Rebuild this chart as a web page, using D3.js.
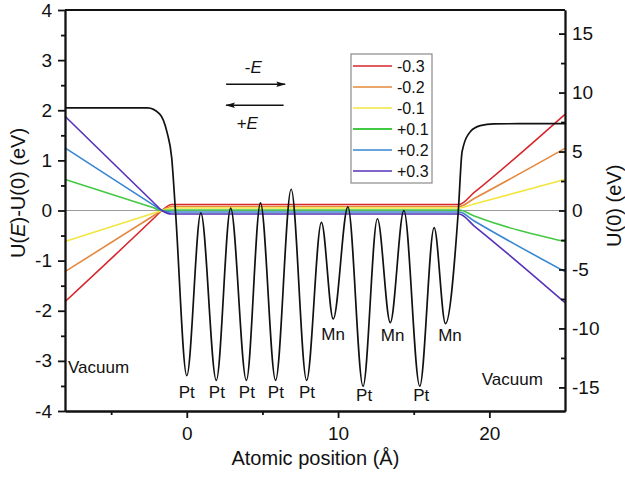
<!DOCTYPE html>
<html>
<head>
<meta charset="utf-8">
<script src="https://cdn.jsdelivr.net/npm/d3@7"></script>
<style>
    body { margin: 0; background: #fff; }
    svg { font-family: "Liberation Sans", Arial, sans-serif; }
</style>
</head>
<body>
<svg id="chart"></svg>
<script>
// Field-induced potential change (left axis) and bare potential U(0) (right axis)
const fieldLabels = ['-0.3', '-0.2', '-0.1', '+0.1', '+0.2', '+0.3'];
const fieldColors = ['#d7262b', '#e4883e', '#f2e640', '#43c843', '#3886d2', '#5632b8'];

// atomic positions where each U(E)-U(0) curve was read
const fieldX = [-8.05, -2.2, -1.65, -1.0, 18.0, 19.0, 25];
const fieldValues = [
    [-1.82, -0.16, 0, 0.12, 0.12, 0.36, 1.92],
    [-1.22, -0.105, 0, 0.08, 0.08, 0.24, 1.24],
    [-0.62, -0.053, 0, 0.05, 0.05, 0.13, 0.62],
    [0.62, 0.053, 0, 0.01, 0.01, -0.11, -0.62],
    [1.25, 0.107, 0, -0.03, -0.03, -0.21, -1.22],
    [1.88, 0.16, 0, -0.07, -0.07, -0.31, -1.84]
];

// bare potential U(0), eV, right axis
const u0X = [-8.05, -2.6, -1.8, -1.3, -1.0, -0.75, 0, 0.93, 1.95, 2.9, 3.94, 4.87, 5.87, 6.9, 7.92,
    8.9, 9.68, 10.65, 11.65, 12.6, 13.45, 14.35, 15.4, 16.35, 17.1, 17.95, 18.2, 18.75, 19.4, 20.3, 25];
const u0Values = [8.7, 8.7, 8.2, 6.6, 4.5, 0, -14.0, -0.2, -14.4, 0.2, -14.4, 0.65, -14.4, 1.8, -14.4,
    -1.0, -9.2, 0.3, -14.9, -0.7, -9.5, 0, -14.9, -1.45, -9.6, 0, 5.0, 6.7, 7.2, 7.35, 7.37];

const leftTicks = [-4, -3, -2, -1, 0, 1, 2, 3, 4];
const leftMinor = [-3.5, -2.5, -1.5, -0.5, 0.5, 1.5, 2.5, 3.5];
const rightTicks = [-15, -10, -5, 0, 5, 10, 15];
const rightMinor = [-12.5, -7.5, -2.5, 2.5, 7.5, 12.5];
const xTicks = [0, 10, 20];
const xMinor = [-5, 5, 15];

// site labels (x in Angstrom, y in left-axis eV)
const ptX = [0, 1.99, 3.97, 5.89, 7.95, 11.72, 15.5];
const ptY = [-3.74, -3.74, -3.74, -3.74, -3.74, -3.8, -3.8];
const mnX = [9.67, 13.6, 17.4];
const mnY = [-2.58, -2.6, -2.6];

const width = 625, height = 477;
const margin = { top: 10, right: 60, bottom: 66, left: 65 };

const svg = d3.select('#chart').attr('width', width).attr('height', height);

const x = d3.scaleLinear().domain([-8.05, 25]).range([margin.left, width - margin.right]);
const yL = d3.scaleLinear().domain([-4, 4]).range([height - margin.bottom, margin.top]);
const yR = d3.scaleLinear().domain([-17, 17]).range([height - margin.bottom, margin.top]);

// zero line
svg.append('line')
    .attr('x1', x.range()[0]).attr('x2', x.range()[1])
    .attr('y1', yL(0)).attr('y2', yL(0))
    .attr('stroke', '#9a9a9a').attr('stroke-width', 1);

// field curves
const fieldLine = d3.line()
    .x((d, i) => x(fieldX[i]))
    .y(d => yL(d))
    .curve(d3.curveMonotoneX);

svg.append('g').selectAll('path')
    .data(fieldValues)
    .enter().append('path')
    .attr('d', fieldLine)
    .attr('fill', 'none')
    .attr('stroke', (d, i) => fieldColors[i])
    .attr('stroke-width', 1.6);

// U(0) curve
const u0Line = d3.line()
    .x((d, i) => x(u0X[i]))
    .y(d => yR(d))
    .curve(d3.curveMonotoneX);

svg.append('path')
    .datum(u0Values)
    .attr('d', u0Line)
    .attr('fill', 'none')
    .attr('stroke', '#111')
    .attr('stroke-width', 1.7);

// axes
const tickFmt = d => String(d);

function styleAxis(g) {
    g.selectAll('path, line').attr('stroke', '#111').attr('stroke-width', 1.8);
    g.selectAll('text').attr('fill', '#111').style('font-size', '19px')
        .style('font-family', '"Liberation Sans", Arial, sans-serif');
}

svg.append('g')
    .attr('transform', `translate(${margin.left},0)`)
    .call(d3.axisLeft(yL).tickValues(leftMinor).tickSize(4).tickSizeOuter(0).tickFormat(''))
    .call(styleAxis);
svg.append('g')
    .attr('transform', `translate(${margin.left},0)`)
    .call(d3.axisLeft(yL).tickValues(leftTicks).tickSize(7).tickSizeOuter(0).tickPadding(6).tickFormat(tickFmt))
    .call(styleAxis);

svg.append('g')
    .attr('transform', `translate(0,${height - margin.bottom})`)
    .call(d3.axisBottom(x).tickValues(xMinor).tickSize(4).tickSizeOuter(0).tickFormat(''))
    .call(styleAxis);
svg.append('g')
    .attr('transform', `translate(0,${height - margin.bottom})`)
    .call(d3.axisBottom(x).tickValues(xTicks).tickSize(7).tickSizeOuter(0).tickPadding(9).tickFormat(tickFmt))
    .call(styleAxis);

svg.append('g')
    .attr('transform', `translate(${width - margin.right},0)`)
    .call(d3.axisRight(yR).tickValues(rightMinor).tickSizeInner(-4).tickSizeOuter(0).tickFormat(''))
    .call(styleAxis);
svg.append('g')
    .attr('transform', `translate(${width - margin.right},0)`)
    .call(d3.axisRight(yR).tickValues(rightTicks).tickSizeInner(-6).tickSizeOuter(0).tickPadding(7).tickFormat(tickFmt))
    .call(styleAxis);

// top frame
svg.append('line')
    .attr('x1', margin.left).attr('x2', width - margin.right)
    .attr('y1', margin.top).attr('y2', margin.top)
    .attr('stroke', '#111').attr('stroke-width', 1.8);

// axis titles
const leftTitle = svg.append('text')
    .attr('transform', `translate(25,${yL(0.35)}) rotate(-90)`)
    .attr('text-anchor', 'middle')
    .style('font-size', '20px').attr('fill', '#111');
leftTitle.append('tspan').text('U(');
leftTitle.append('tspan').text('E').style('font-style', 'italic');
leftTitle.append('tspan').text(')-U(0) (eV)');

svg.append('text')
    .attr('transform', `translate(621,${yR(0.4)}) rotate(-90)`)
    .attr('text-anchor', 'middle')
    .style('font-size', '20px').attr('fill', '#111')
    .text('U(0) (eV)');

svg.append('text')
    .attr('x', x(8.5)).attr('y', 465)
    .attr('text-anchor', 'middle')
    .style('font-size', '20px').attr('fill', '#111')
    .text('Atomic position (Å)');

// site labels
const labelSize = '17px';
svg.append('g').selectAll('text')
    .data(ptX)
    .enter().append('text')
    .attr('x', d => x(d))
    .attr('y', (d, i) => yL(ptY[i]))
    .attr('text-anchor', 'middle')
    .style('font-size', labelSize).attr('fill', '#111')
    .text('Pt');

svg.append('g').selectAll('text')
    .data(mnX)
    .enter().append('text')
    .attr('x', d => x(d))
    .attr('y', (d, i) => yL(mnY[i]))
    .attr('text-anchor', 'middle')
    .style('font-size', labelSize).attr('fill', '#111')
    .text('Mn');

svg.append('text')
    .attr('x', x(-7.85)).attr('y', yL(-3.24))
    .style('font-size', labelSize).attr('fill', '#111')
    .text('Vacuum');
svg.append('text')
    .attr('x', x(19.5)).attr('y', yL(-3.48))
    .style('font-size', labelSize).attr('fill', '#111')
    .text('Vacuum');

// field direction arrows
const defs = svg.append('defs');
defs.append('marker')
    .attr('id', 'arrowhead')
    .attr('viewBox', '0 -5 12 10')
    .attr('refX', 11)
    .attr('refY', 0)
    .attr('orient', 'auto')
    .attr('markerUnits', 'userSpaceOnUse')
    .attr('markerWidth', 12)
    .attr('markerHeight', 8)
    .append('path')
    .attr('d', 'M0,-3.5 L12,0 L0,3.5 L2,0 Z')
    .attr('fill', '#111');

svg.append('line')
    .attr('x1', x(2.6)).attr('x2', x(6.5))
    .attr('y1', yL(2.52)).attr('y2', yL(2.52))
    .attr('stroke', '#111').attr('stroke-width', 1.4)
    .attr('marker-end', 'url(#arrowhead)');
svg.append('line')
    .attr('x1', x(6.4)).attr('x2', x(2.6))
    .attr('y1', yL(2.1)).attr('y2', yL(2.1))
    .attr('stroke', '#111').attr('stroke-width', 1.4)
    .attr('marker-end', 'url(#arrowhead)');

const minusE = svg.append('text')
    .attr('x', x(4.4)).attr('y', yL(2.74))
    .attr('text-anchor', 'middle')
    .style('font-size', labelSize).attr('fill', '#111');
minusE.append('tspan').text('-');
minusE.append('tspan').text('E').style('font-style', 'italic');

const plusE = svg.append('text')
    .attr('x', x(4.0)).attr('y', yL(1.62))
    .attr('text-anchor', 'middle')
    .style('font-size', labelSize).attr('fill', '#111');
plusE.append('tspan').text('+');
plusE.append('tspan').text('E').style('font-style', 'italic');

// legend
const legend = svg.append('g').attr('transform', 'translate(351,54)');
legend.append('rect')
    .attr('width', 81).attr('height', 129)
    .attr('fill', '#fff')
    .attr('stroke', '#8a8a8a').attr('stroke-width', 1.2);

const rows = legend.selectAll('g.row')
    .data(fieldLabels)
    .enter().append('g')
    .attr('class', 'row')
    .attr('transform', (d, i) => `translate(0,${12 + i * 21})`);

rows.append('line')
    .attr('x1', 2).attr('x2', 41)
    .attr('stroke', (d, i) => fieldColors[i])
    .attr('stroke-width', (d, i) => i === 3 ? 2.2 : 1.6);

rows.append('text')
    .attr('x', 46).attr('dy', '0.36em')
    .style('font-size', '16px').attr('fill', '#111')
    .text(d => d);
</script>
</body>
</html>
